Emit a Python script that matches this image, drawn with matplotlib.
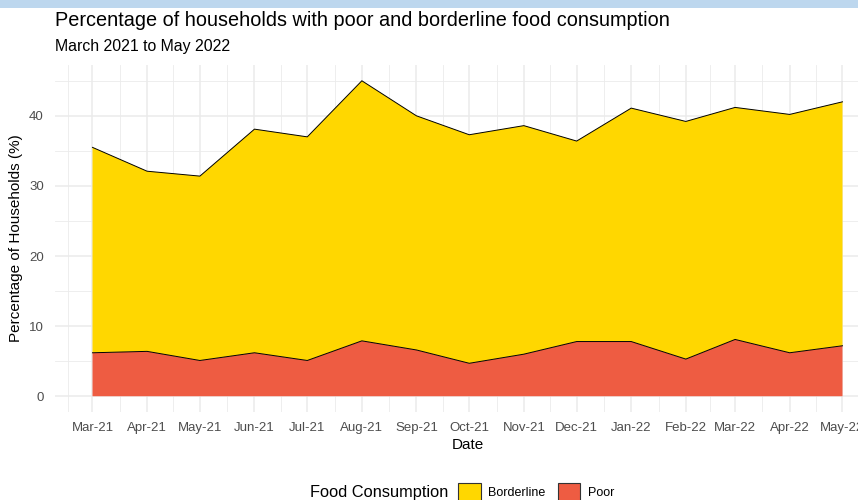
import datetime as dt
import matplotlib
matplotlib.use("Agg")
import matplotlib.pyplot as plt
from matplotlib.patches import Patch, Rectangle

# Data
months = ["Mar-21", "Apr-21", "May-21", "Jun-21", "Jul-21", "Aug-21", "Sep-21", "Oct-21",
          "Nov-21", "Dec-21", "Jan-22", "Feb-22", "Mar-22", "Apr-22", "May-22"]
poor = [6.2, 6.4, 5.1, 6.2, 5.1, 7.9, 6.6, 4.7, 6.0, 7.8, 7.8, 5.3, 8.1, 6.2, 7.2]
borderline = [29.3, 25.7, 26.3, 31.9, 31.9, 37.1, 33.4, 32.6, 32.6, 28.6, 33.3, 33.9, 33.1, 34.0, 34.8]

dates = [dt.datetime.strptime(m, "%b-%y") for m in months]
total = [p + b for p, b in zip(poor, borderline)]

plt.rcParams['font.family'] = ['Liberation Sans', 'DejaVu Sans']

fig = plt.figure(figsize=(8.58, 5.0), dpi=100)
# light blue strip at the top of the screenshot
fig.patches.append(Rectangle((0, 1 - 8 / 500), 1, 8 / 500, transform=fig.transFigure,
                             facecolor="#bdd7ee", edgecolor="none"))

ax = fig.add_axes([55 / 858, 1 - 412 / 500, (880 - 55) / 858, (412 - 65) / 500])

ax.stackplot(dates, poor, borderline, colors=["#ee5c42", "#ffd700"], linewidth=0)
ax.plot(dates, poor, color="black", lw=0.7)
ax.plot(dates, total, color="black", lw=0.7)

# ggplot-like expansion
span = dates[-1] - dates[0]
ax.set_xlim(dates[0] - span * 0.05, dates[-1] + span * 0.05)
ymax = max(total)
ax.set_ylim(-ymax * 0.05, ymax * 1.05)

ax.set_xticks(dates)
ax.set_xticklabels(months)
ext = [dt.datetime(2021, 2, 1)] + dates + [dt.datetime(2022, 6, 1)]
minor = [a + (b - a) / 2 for a, b in zip(ext[:-1], ext[1:])]
ax.set_xticks(minor, minor=True)
ax.set_yticks([0, 10, 20, 30, 40])
ax.set_yticks([5, 15, 25, 35, 45], minor=True)

ax.grid(which="major", color="#ebebeb", lw=1.1)
ax.grid(which="minor", color="#ebebeb", lw=0.6)
ax.set_axisbelow(True)
for s in ax.spines.values():
    s.set_visible(False)
ax.tick_params(which="both", length=0)
ax.tick_params(axis="x", labelsize=9.5, labelcolor="#4d4d4d", pad=7)
ax.tick_params(axis="y", labelsize=9.5, labelcolor="#4d4d4d", pad=8)

ax.set_xlabel("Date", fontsize=11, labelpad=3)
ax.set_ylabel("Percentage of Households (%)", fontsize=11, labelpad=4)

fig.text(55 / 858, 1 - 21 / 500, "Percentage of households with poor and borderline food consumption",
         fontsize=14.3, va="center", ha="left")
fig.text(55 / 858, 1 - 47 / 500, "March 2021 to May 2022", fontsize=11.4, va="center", ha="left")

# legend
fig.text(310 / 858, 1 - 492 / 500, "Food Consumption", fontsize=11.8, va="center", ha="left")
handles = [Patch(facecolor="#ffd700", edgecolor="#333333", lw=0.8),
           Patch(facecolor="#ee5c42", edgecolor="#333333", lw=0.8)]
fig.legend(handles, ["Borderline", "Poor"], ncol=2, loc="center left",
           bbox_to_anchor=(458 / 858, 1 - 492 / 500), frameon=False, fontsize=9,
           handlelength=1.8, handleheight=1.9, handletextpad=0.6, columnspacing=1.0,
           borderaxespad=0, borderpad=0)

fig.savefig("out.png", dpi=100)
